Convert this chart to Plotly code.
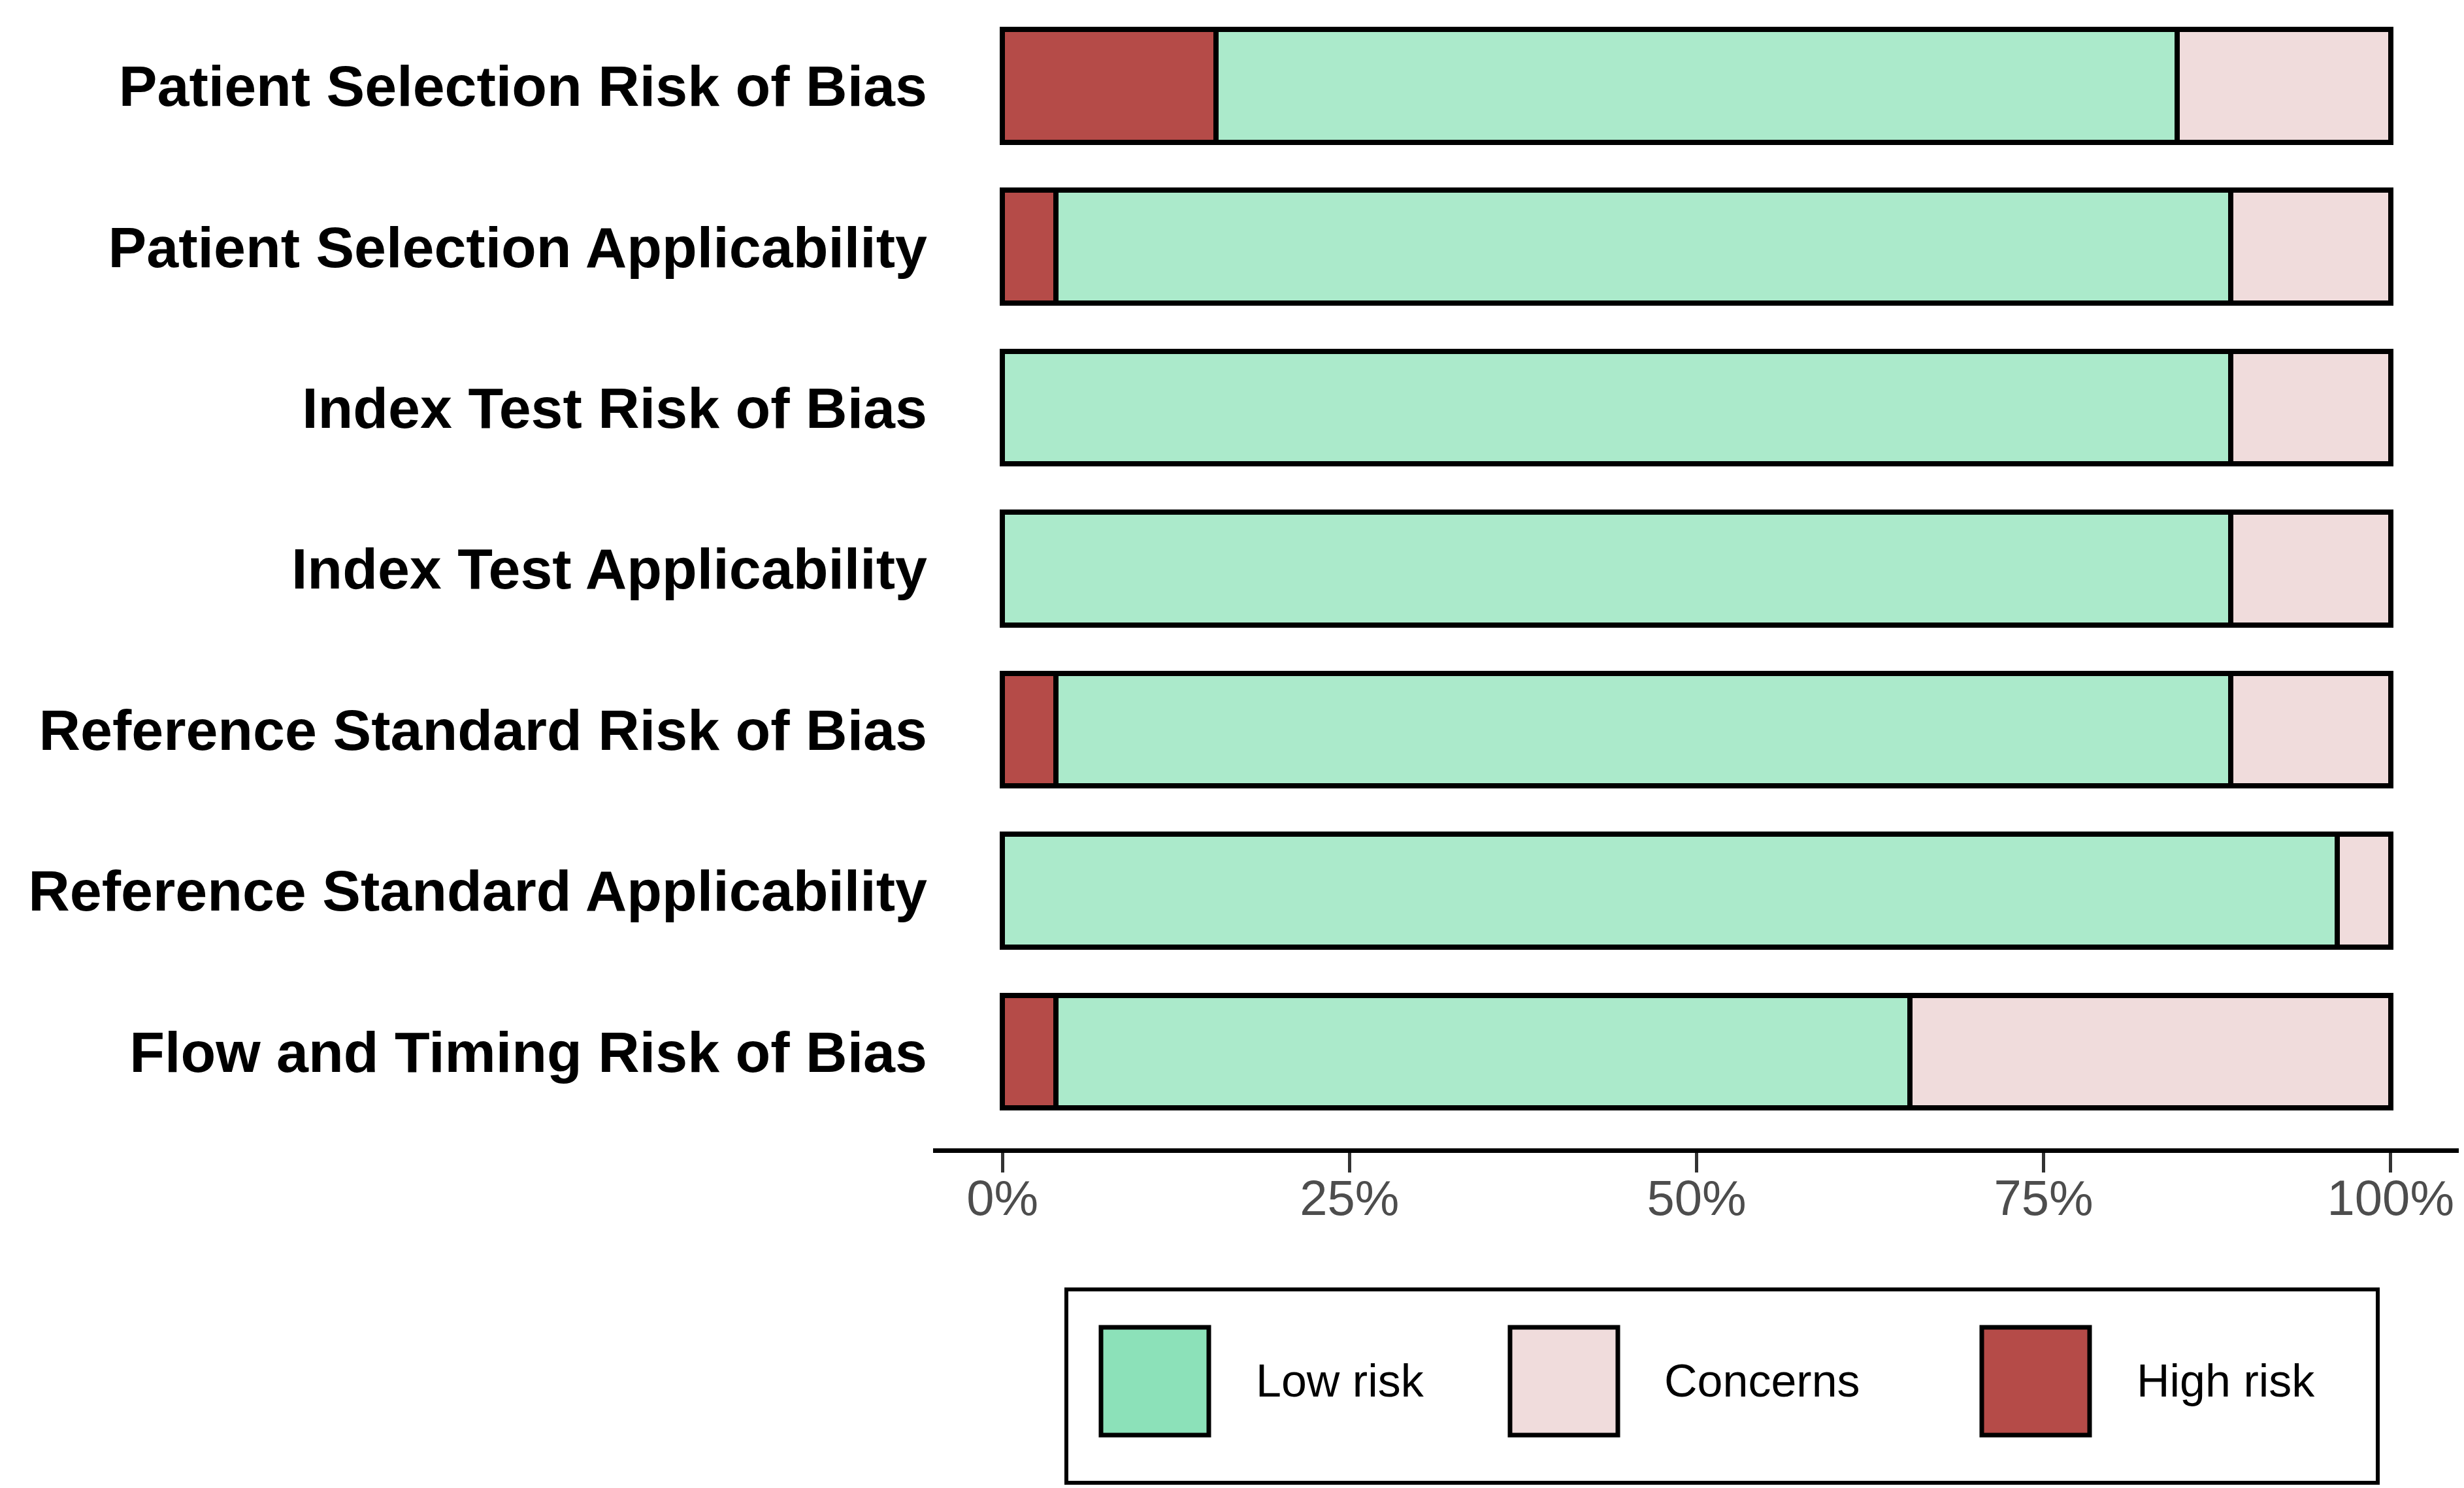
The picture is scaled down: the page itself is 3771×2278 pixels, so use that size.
import plotly.graph_objects as go

# ---- data ----
domains = [
    "Patient Selection Risk of Bias",
    "Patient Selection Applicability",
    "Index Test Risk of Bias",
    "Index Test Applicability",
    "Reference Standard Risk of Bias",
    "Reference Standard Applicability",
    "Flow and Timing Risk of Bias",
]
n_studies = 26
high_risk = [4, 1, 0, 0, 1, 0, 1]
low_risk = [18, 22, 23, 23, 22, 25, 16]
concerns = [4, 3, 3, 3, 3, 1, 9]
tick_vals = [0, 0.25, 0.5, 0.75, 1.0]
tick_text = ["0%", "25%", "50%", "75%", "100%"]
legend_labels = ["Low risk", "Concerns", "High risk"]

# ---- styles ----
W, H = 3771, 2278
ML, MR, MT, MB = 1420, 14, 0, 528
bar_colors = {"High risk": "#B54B48", "Low risk": "#ABEACB", "Concerns": "#F0DCDC"}
key_colors = {"Low risk": "#8CE1B9", "Concerns": "#F0DCDC", "High risk": "#B54B48"}
FONT = "Liberation Sans, Arial, sans-serif"

fig = go.Figure()
for name, vals in [("High risk", high_risk), ("Low risk", low_risk), ("Concerns", concerns)]:
    fig.add_trace(go.Bar(
        y=domains,
        x=[v / n_studies for v in vals],
        orientation="h",
        name=name,
        width=0.7,
        marker=dict(color=bar_colors[name], line=dict(color="black", width=8)),
        showlegend=False,
    ))

pw = W - ML - MR
ph = H - MT - MB


def px_x(x):
    return (x - ML) / pw


def px_y(y):
    return (H - MB - y) / ph


shapes = []
annotations = []
# legend box
shapes.append(dict(type="rect", xref="paper", yref="paper",
                   x0=px_x(1624), x1=px_x(3631), y0=px_y(2262), y1=px_y(1966),
                   line=dict(color="black", width=6), fillcolor="white"))
key_x = [1677, 2303, 3025]
text_x = [1912, 2537, 3260]
for lab, kx, tx in zip(legend_labels, key_x, text_x):
    shapes.append(dict(type="rect", xref="paper", yref="paper",
                       x0=px_x(kx), x1=px_x(kx + 165), y0=px_y(2189), y1=px_y(2024),
                       line=dict(color="black", width=7), fillcolor=key_colors[lab]))
    annotations.append(dict(text=lab, xref="paper", yref="paper",
                            x=px_x(tx), y=px_y(2106), xanchor="left", yanchor="middle",
                            showarrow=False, font=dict(family=FONT, size=70, color="black")))

fig.update_layout(
    width=W, height=H,
    margin=dict(l=ML, r=MR, t=MT, b=MB),
    barmode="stack",
    bargap=0.3,
    plot_bgcolor="white",
    paper_bgcolor="white",
    shapes=shapes,
    annotations=annotations,
    xaxis=dict(range=[-0.05, 1.05], tickvals=tick_vals, ticktext=tick_text,
               showgrid=False, zeroline=False, showline=True, linecolor="black", linewidth=7,
               ticks="outside", ticklen=30, tickwidth=5, tickcolor="#333333",
               ticklabelstandoff=-26,
               tickfont=dict(family=FONT, size=76, color="#4D4D4D")),
    yaxis=dict(categoryorder="array", categoryarray=domains, range=[6.6, -0.5],
               showgrid=False, zeroline=False, showline=False, ticks="",
               ticklabelstandoff=8,
               tickfont=dict(family=FONT, size=88, color="black", weight="bold")),
)

fig.write_html("out.html")
